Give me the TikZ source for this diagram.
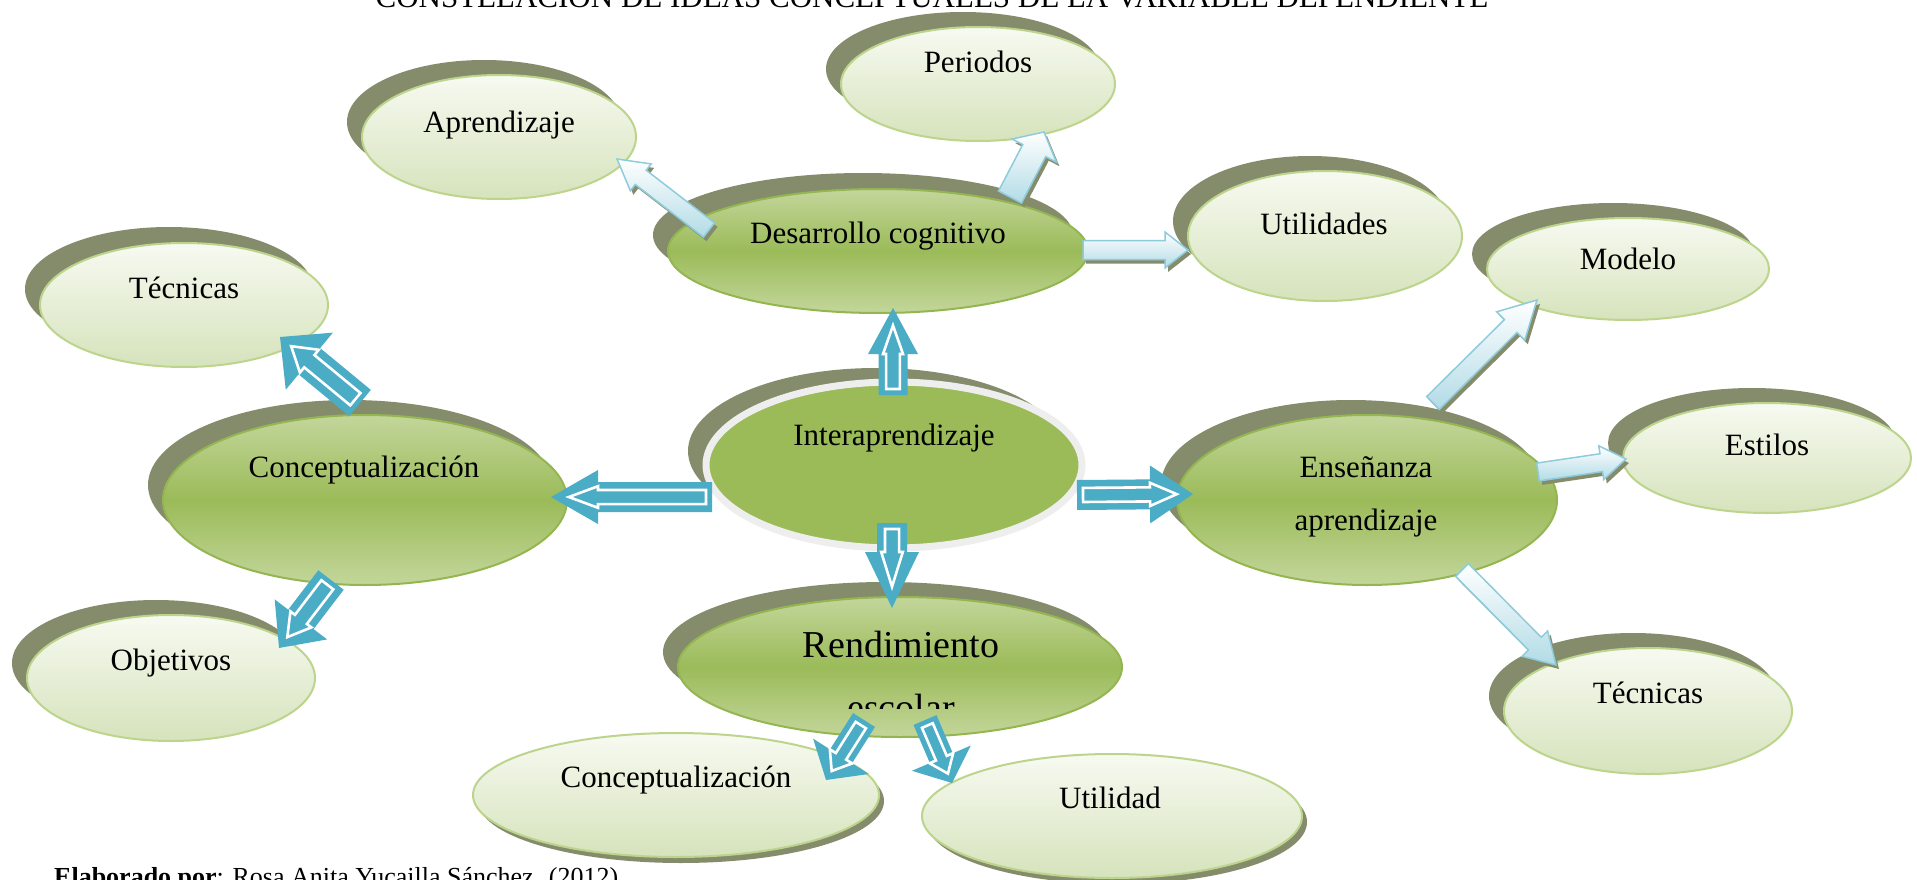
\documentclass[tikz,border=0pt]{standalone}
\usepackage{fontspec}
\setmainfont{Liberation Serif}
\usetikzlibrary{shapes.geometric,calc}

\definecolor{teal1}{HTML}{4BACC6}
\definecolor{ablue}{HTML}{B2DBE6}
\definecolor{aedge}{HTML}{8ECCDC}
\definecolor{gmid}{HTML}{9BBB59}
\definecolor{glight}{HTML}{C3D69B}
\definecolor{gedge}{HTML}{94B651}
\definecolor{ltop}{HTML}{F7FAF1}
\definecolor{lbot}{HTML}{D6E3BC}
\definecolor{ledge}{HTML}{BCD48C}
\definecolor{shad}{HTML}{858C6C}
\definecolor{ringgray}{HTML}{EEEEEE}

\tikzset{
  shadowell/.style={ellipse, fill=shad, inner sep=0pt},
  darkell/.style={ellipse, inner sep=0pt, top color=glight, bottom color=glight, middle color=gmid, draw=gedge, line width=2pt},
  lightell/.style={ellipse, inner sep=0pt, top color=ltop, bottom color=lbot, draw=ledge, line width=2pt},
  interell/.style={ellipse, inner sep=0pt, fill=gmid, draw=ringgray, line width=7pt},
  txt/.style={font=\fontsize{31}{37}\selectfont, inner sep=0pt, anchor=base},
  lightarrow/.style={top color=white, bottom color=ablue, draw=aedge, line width=1.5pt, line join=miter},
  tealfill/.style={fill=teal1},
  tealinner/.style={fill=teal1, draw=white, line width=2.6pt, line join=miter},
}

\newcommand\bubble[6]{%
  \node[shadowell, minimum width=#4pt, minimum height=#5pt] (#1sh) at ($(#3)+(#6)$) {};
  \node[#2, minimum width=#4pt, minimum height=#5pt] (#1) at (#3) {};
}

\makeatletter
\newcommand\arrshape[6]{%
  \path[#1] (#2pt,-#4pt) -- (#6pt,-#4pt) -- (#6pt,-#5pt) -- (#3pt,0pt) -- (#6pt,#5pt) -- (#6pt,#4pt) -- (#2pt,#4pt) -- cycle;}
\newcommand\arrgeom[2]{%
  \pgfpointdiff{\pgfpointanchor{#1}{center}}{\pgfpointanchor{#2}{center}}%
  \pgfgetlastxy{\ag@dx}{\ag@dy}%
  \pgfmathsetmacro\ag@ang{atan2(\ag@dy,\ag@dx)}%
  \pgfmathsetmacro\ag@len{veclen(\ag@dx,\ag@dy)}}
\newcommand\lightarr[5]{%
  \arrgeom{#1}{#2}%
  \pgfmathsetmacro\ag@hb{\ag@len-#5}%
  \begin{scope}[shift={(#1)}, shift={(3,4)}, rotate=\ag@ang]
    \arrshape{fill=shad}{0}{\ag@len}{#3}{#4}{\ag@hb}
  \end{scope}
  \begin{scope}[shift={(#1)}, rotate=\ag@ang]
    \arrshape{lightarrow}{0}{\ag@len}{#3}{#4}{\ag@hb}
  \end{scope}}
\newcommand\tealarr[5]{%
  \arrgeom{#1}{#2}%
  \pgfmathsetmacro\ag@hb{\ag@len-#5}%
  \pgfmathsetmacro\ag@it{\ag@len-0.38*#5}%
  \pgfmathsetmacro\ag@is{0.47*#3}%
  \pgfmathsetmacro\ag@ih{0.4*#4}%
  \begin{scope}[shift={(#1)}, rotate=\ag@ang]
    \arrshape{tealfill}{0}{\ag@len}{#3}{#4}{\ag@hb}
    \arrshape{tealinner}{6}{\ag@it}{\ag@is}{\ag@ih}{\ag@hb}
  \end{scope}}
\makeatother

\begin{document}
\begin{tikzpicture}[x=1pt,y=-1pt]
\useasboundingbox (0,0) rectangle (1917,880);
\fill[white] (0,0) rectangle (1917,880);
\clip (0,0) rectangle (1917,880);

% title and footer
\node[txt] (title) at (932,7.5) {CONSTELACIÓN DE IDEAS CONCEPTUALES DE LA VARIABLE DEPENDIENTE};
\node[font=\fontsize{26}{31}\selectfont, inner sep=0pt, anchor=base west] (foot) at (54,885) {\textbf{Elaborado por}: Rosa Anita Yucailla Sánchez. (2012)};

% bubbles
\bubble{per}{lightell}{978,84}{274}{114}{-15,-15}
\bubble{apr}{lightell}{499,137}{274}{124}{-15,-15}
\bubble{des}{darkell}{878,251}{420}{124}{-15,-16}
\bubble{uti}{lightell}{1325,236}{274}{130}{-15,-15}
\bubble{tecl}{lightell}{184,305}{288}{124}{-15,-16}
\bubble{mod}{lightell}{1628,269}{282}{102}{-15,-15}
\bubble{con}{darkell}{365,500}{404}{170}{-15,-15}
\bubble{int}{interell}{894,465}{376}{166}{-18,-14}
\bubble{est}{lightell}{1767,458}{288}{110}{-15,-15}
\bubble{ens}{darkell}{1367,500}{380}{170}{-16,-15}
\bubble{obj}{lightell}{171,678}{288}{126}{-15,-15}
\bubble{conb}{lightell}{676,795}{406}{124}{5,6}
\bubble{ren}{darkell}{900,667}{444}{140}{-15,-15}
\bubble{tecr}{lightell}{1648,711}{288}{126}{-15,-15}
\bubble{utd}{lightell}{1112,816}{380}{124}{5,6}

% texts
\node[txt] (pert) at (978,73) {Periodos};
\node[txt] (aprt) at (499,133) {Aprendizaje};
\node[txt] (dest) at (878,243) {Desarrollo cognitivo};
\node[txt] (utit) at (1324,234) {Utilidades};
\node[txt] (teclt) at (184,298) {Técnicas};
\node[txt] (modt) at (1628,269) {Modelo};
\node[txt] (cont) at (364,477) {Conceptualización};
\node[txt] (intt) at (894,445) {Interaprendizaje};
\node[txt] (estt) at (1767,455) {Estilos};
\node[txt] (enst) at (1366,477) {Enseñanza};
\node[txt] (enst2) at (1366,530) {aprendizaje};
\node[txt] (objt) at (171,670) {Objetivos};
\node[txt, font=\fontsize{38}{44}\selectfont] (rent) at (901,657) {Rendimiento};
\begin{scope}
  \clip (600,600) rectangle (1200,708);
  \node[txt, font=\fontsize{38}{44}\selectfont] (rent2) at (901,720) {escolar};
\end{scope}
\node[txt] (tecrt) at (1648,703) {Técnicas};
\node[txt] (conbt) at (676,787) {Conceptualización};
\node[txt] (utdt) at (1110,808) {Utilidad};

% arrow end points
\coordinate (a1s) at (709,230); \coordinate (a1e) at (617,159);
\coordinate (a2s) at (1010,197); \coordinate (a2e) at (1044,132);
\coordinate (a3s) at (1083,250); \coordinate (a3e) at (1188,250);
\coordinate (a4s) at (1433,403); \coordinate (a4e) at (1537,300);
\coordinate (a5s) at (1538,472); \coordinate (a5e) at (1626,459);
\coordinate (a6s) at (1462,570); \coordinate (a6e) at (1556,665);

\coordinate (b1s) at (893,395); \coordinate (b1e) at (893,308);
\coordinate (b2s) at (712,497); \coordinate (b2e) at (551,497);
\coordinate (b3s) at (1077,495); \coordinate (b3e) at (1193,494);
\coordinate (b4s) at (892,523); \coordinate (b4e) at (892,608);
\coordinate (b5s) at (360,403); \coordinate (b5e) at (280,337);
\coordinate (b6s) at (331,580); \coordinate (b6e) at (279,648);
\coordinate (b7s) at (864,720); \coordinate (b7e) at (826,780);
\coordinate (b8s) at (925,720); \coordinate (b8e) at (952,783);

% light arrows
\lightarr{a1s}{a1e}{9}{17}{30}
\lightarr{a2s}{a2e}{13}{25}{21}
\lightarr{a3s}{a3e}{9.5}{18}{23}
\lightarr{a4s}{a4e}{9}{20}{37}
\lightarr{a5s}{a5e}{9}{17}{25}
\lightarr{a6s}{a6e}{9}{18}{30}

% teal arrows
\tealarr{b1s}{b1e}{14.5}{25}{46}
\tealarr{b2s}{b2e}{15}{27}{47}
\tealarr{b3s}{b3e}{15}{29}{43}
\tealarr{b4s}{b4e}{15}{27}{56}
\tealarr{b5s}{b5e}{17}{37}{38}
\tealarr{b6s}{b6e}{16}{33}{36}
\tealarr{b7s}{b7e}{13}{33}{28}
\tealarr{b8s}{b8e}{12.5}{32}{27}
\end{tikzpicture}
\end{document}
